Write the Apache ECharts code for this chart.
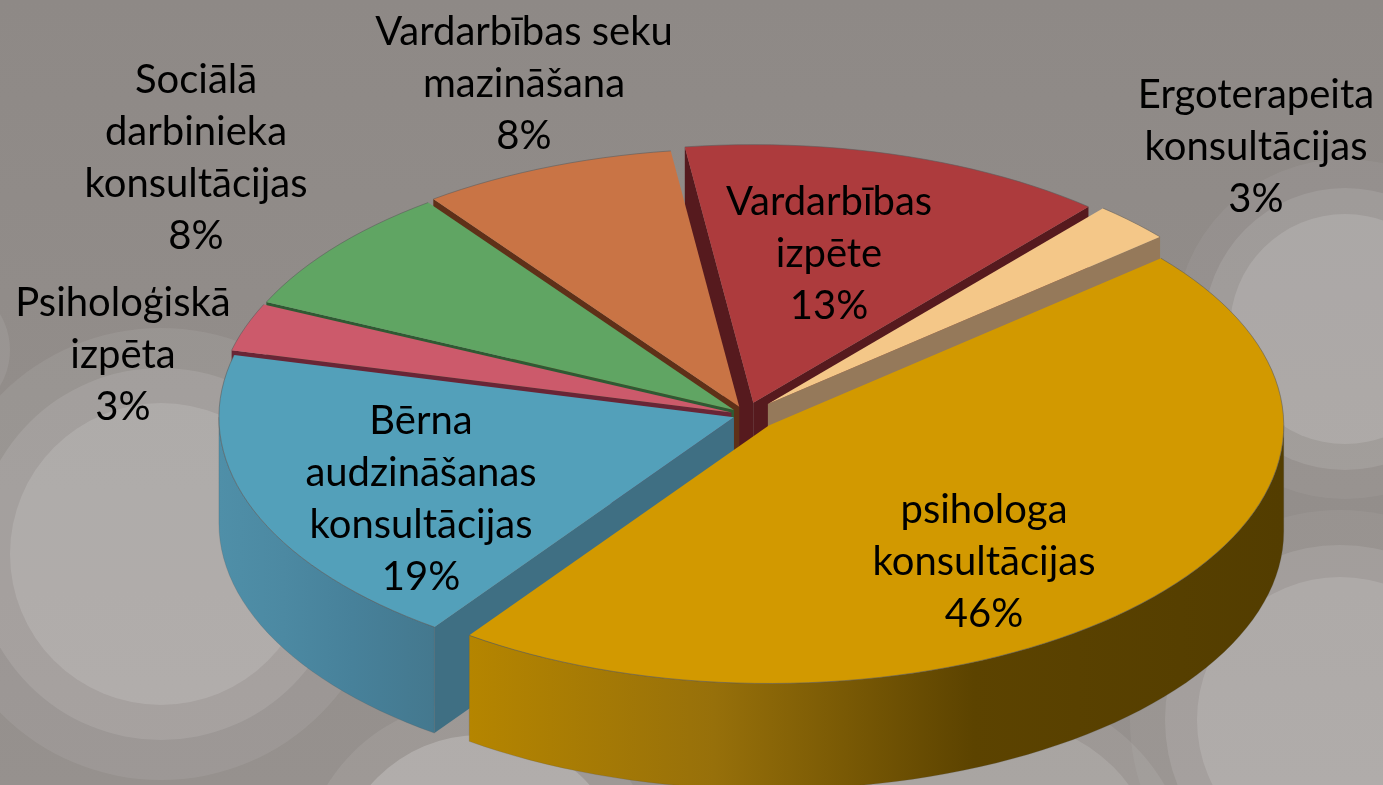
<!DOCTYPE html>
<html>
<head>
<meta charset="UTF-8">
<title>Konsultācijas</title>
<script src="https://cdn.jsdelivr.net/npm/echarts@6/dist/echarts.min.js"></script>
<style>
html, body { margin: 0; padding: 0; background: #928d8a; }
#main { width: 1383px; height: 785px; }
</style>
</head>
<body>
<div id="main"></div>
<script>
// chart data, clockwise from the upper right
var categories = ['psihologa\nkonsultācijas', 'Bērna\naudzināšanas\nkonsultācijas', 'Psiholoģiskā\nizpēta',
    'Sociālā\ndarbinieka\nkonsultācijas', 'Vardarbības seku\nmazināšana', 'Vardarbības\nizpēte', 'Ergoterapeita\nkonsultācijas'];
var values = [46.1, 19, 3, 8, 8, 13.4, 2.5];

// slice look
var explode = [0.06, 0.025, 0.03, 0.03, 0.035, 0.05, 0.06];
var topColors = ['#d29900', '#53a0ba', '#cc5a6b', '#60a563', '#c97445', '#ad3b3d', '#f4c788'];
var cutColors = ['#6e5000', '#3f6f83', '#692536', '#2f5a33', '#5f3018', '#561a1e', '#95795a'];
var wallColors = [['#b58500', '#97700a', '#5c4300', '#533d00'], ['#4f8fa8', '#4c89a2', '#47819a', '#44788e'],
    ['#8a3f4a', '#8a3f4a', '#8a3f4a', '#8a3f4a'], ['#3f6f42', '#3f6f42', '#3f6f42', '#3f6f42'],
    ['#8a5030', '#8a5030', '#8a5030', '#8a5030'], ['#7a2a2c', '#7a2a2c', '#7a2a2c', '#7a2a2c'],
    ['#a58a60', '#a58a60', '#a58a60', '#a58a60']];
var labelCenters = [[984, 562], [421, 499], [123, 355], [196, 158], [524, 84], [829, 254], [1256, 147]];

// background discs: x, y, r, alpha
var discs = [
    [161, 554, 226, 0.07], [161, 554, 186, 0.1], [161, 554, 151, 0.13],
    [1345, 329, 170, 0.05], [1345, 329, 141, 0.1], [1345, 329, 115, 0.13],
    [1340, 720, 210, 0.05], [1340, 720, 175, 0.1], [1340, 720, 143, 0.13],
    [480, 880, 180, 0.08], [480, 880, 145, 0.2],
    [1000, 880, 190, 0.08], [1000, 880, 160, 0.12],
    [-60, 350, 70, 0.08]
];

var cx = 746, cy = 415, rx = 515, ry = 258, depth = 106;
var startAngle = -40.4;
var total = values.reduce(function (a, b) { return a + b; }, 0);

// angles of each slice in degrees
var slices = [];
var acc = startAngle;
for (var i = 0; i < values.length; i++) {
    var a1 = acc + values[i] / total * 360;
    slices.push({ a0: acc, a1: a1, mid: (acc + a1) / 2 });
    acc = a1;
}
function rad(d) { return d * Math.PI / 180; }

// back slices first so the front ones cover them
var drawOrder = values.map(function (v, k) { return k; }).sort(function (p, q) {
    return Math.sin(rad(slices[p].mid)) - Math.sin(rad(slices[q].mid));
});

function arcPoints(ax, ay, from, to, dy) {
    var pts = [];
    var n = Math.max(2, Math.ceil((to - from) / 2));
    for (var k = 0; k <= n; k++) {
        var t = rad(from + (to - from) * k / n);
        pts.push([ax + rx * Math.cos(t), ay + ry * Math.sin(t) + dy]);
    }
    return pts;
}

function renderSlice(params, api) {
    var idx = api.value(0);
    var s = slices[idx];
    var e = explode[idx];
    var ax = cx + e * rx * Math.cos(rad(s.mid));
    var ay = cy + e * ry * Math.sin(rad(s.mid));
    var children = [];

    function cutWall(angle) {
        var px = ax + rx * Math.cos(rad(angle)), py = ay + ry * Math.sin(rad(angle));
        children.push({
            type: 'polygon',
            shape: { points: [[ax, ay], [px, py], [px, py + depth], [ax, ay + depth]] },
            style: { fill: cutColors[idx] }
        });
    }
    if (Math.sin(rad(s.a0 - 90)) > 0) cutWall(s.a0);
    if (Math.sin(rad(s.a1 + 90)) > 0) cutWall(s.a1);

    // outer wall, only the part that faces the viewer
    var from = Math.max(s.a0, 0), to = Math.min(s.a1, 180);
    if (to > from) {
        var upper = arcPoints(ax, ay, from, to, 0);
        var lower = arcPoints(ax, ay, from, to, depth).reverse();
        var c = wallColors[idx];
        children.push({
            type: 'polygon',
            shape: { points: upper.concat(lower) },
            style: {
                fill: new echarts.graphic.LinearGradient(0, 0, 1, 0, [
                    { offset: 0, color: c[0] }, { offset: 0.3, color: c[1] },
                    { offset: 0.62, color: c[2] }, { offset: 1, color: c[3] }
                ]),
                stroke: 'rgba(80,80,80,0.35)', lineWidth: 0.6
            }
        });
    }

    children.push({
        type: 'polygon',
        shape: { points: [[ax, ay]].concat(arcPoints(ax, ay, s.a0, s.a1, 0)) },
        style: { fill: topColors[idx] }
    });
    children.push({
        type: 'polyline',
        shape: { points: arcPoints(ax, ay, s.a0, s.a1, 0) },
        style: { fill: null, stroke: 'rgba(90,90,90,0.55)', lineWidth: 1 }
    });
    return { type: 'group', children: children };
}

function renderLabel(params, api) {
    var idx = api.value(0);
    return {
        type: 'text',
        style: {
            x: labelCenters[idx][0], y: labelCenters[idx][1],
            text: categories[idx] + '\n' + Math.round(values[idx]) + '%',
            align: 'center', verticalAlign: 'middle',
            font: '40px Lato, "Noto Sans", sans-serif',
            lineHeight: 52, fill: '#000'
        }
    };
}

var chart = echarts.init(document.getElementById('main'));
chart.setOption({
    animation: false,
    backgroundColor: new echarts.graphic.LinearGradient(0, 0, 0, 1, [
        { offset: 0, color: '#8e8986' }, { offset: 1, color: '#96918e' }
    ]),
    graphic: discs.map(function (d) {
        return {
            type: 'circle', silent: true, z: 0,
            shape: { cx: d[0], cy: d[1], r: d[2] },
            style: { fill: 'rgba(255,255,255,' + d[3] + ')' }
        };
    }),
    series: [{
        type: 'custom', coordinateSystem: 'none', silent: true, z: 2,
        renderItem: renderSlice,
        data: drawOrder.map(function (k) { return [k]; })
    }, {
        type: 'custom', coordinateSystem: 'none', silent: true, z: 3,
        renderItem: renderLabel,
        data: values.map(function (v, k) { return [k]; })
    }]
});
</script>
</body>
</html>
